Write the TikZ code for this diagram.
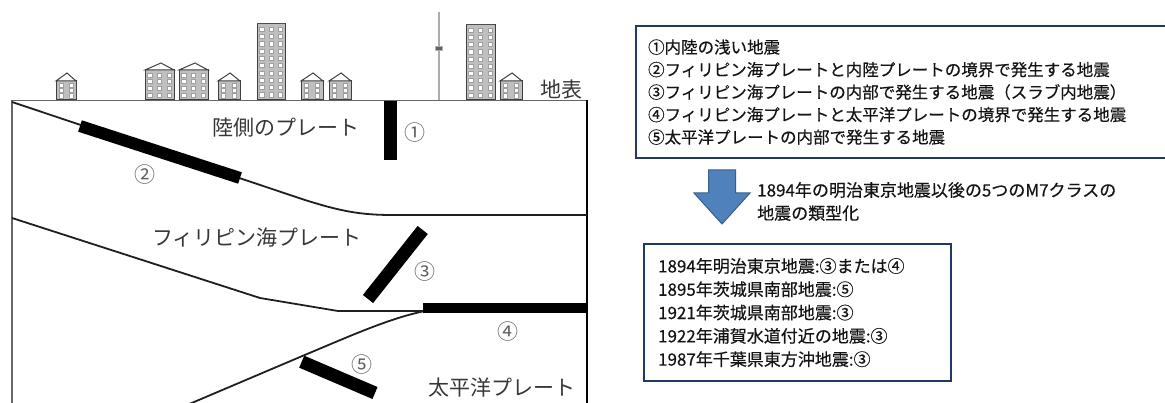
\documentclass[tikz,border=0pt]{standalone}
\usepackage{fontspec}
\setmainfont{Noto Sans CJK JP}
\newfontfamily\boxfont{Noto Sans CJK JP}[FakeBold=0.45, AutoFakeBold=0.45]

\definecolor{navy}{RGB}{31,56,100}
\definecolor{arrowfill}{RGB}{79,129,189}
\definecolor{arrowedge}{RGB}{58,94,140}
\definecolor{numgray}{RGB}{95,95,95}
\definecolor{platetext}{RGB}{55,55,55}

\tikzset{
  boundary/.style={line width=1.8pt, draw=black!88, line join=round},
  quakezone/.style={line width=13pt, draw=black, line cap=butt},
  frame/.style={line width=1.8pt, draw=black!60},
  platelabel/.style={font=\fontsize{21}{25}\selectfont, text=platetext, inner sep=0pt},
  numlabel/.style={font=\fontsize{21}{25}\selectfont, text=numgray, inner sep=0pt},
  infobox/.style={draw=navy, line width=2.2pt, align=left, inner xsep=12pt, inner ysep=5pt, text=black!92},
  bodyfill/.style={fill=gray!50, draw=black!75, line width=1pt},
  bodyedge/.style={draw=black!75, line width=1pt},
  win/.style={fill=white, draw=gray!75, line width=0.5pt}
}

% building: left x, width, wall height, roof peak height, window columns, window rows
\newcommand\bldg[6]{%
  \filldraw[bodyfill] (#1,100) rectangle ({#1+#2},{100-#3});
  \draw[bodyedge, fill=white] (#1,{100-#3}) -- ({#1+0.55*#2},{100-#4}) -- ({#1+#2},{100-#3}) -- cycle;
  \foreach \i in {1,...,#5}{
    \foreach \j in {1,...,#6}{
      \filldraw[win] ({#1+(\i-0.5)*#2/#5},{100-1.5-(\j-0.5)*(#3-3)/#6}) +(-2.1,-2.1) rectangle +(2.1,2.1);
    }
  }
}

\begin{document}
\begin{tikzpicture}[x=1pt, y=-1pt]
\useasboundingbox (0,0) rectangle (1165,403);
\clip (0,0) rectangle (1165,403);

% ---- skyline on the surface ----
\bldg{56}{20}{19}{27}{2}{3}
\bldg{145}{29}{30}{37}{3}{4}
\bldg{179}{29}{30}{37}{3}{4}
\bldg{218}{22}{19}{27}{2}{3}
\bldg{257}{28}{76}{76}{3}{10}
\bldg{301}{22}{19}{27}{2}{3}
\bldg{329}{22}{19}{27}{2}{3}
\bldg{466}{29}{75}{75}{3}{10}
\bldg{500}{22}{19}{27}{2}{3}
% tower
\draw[line width=2.4pt, draw=gray!65] (439,100) -- (439,12);
\filldraw[fill=gray!75!black, draw=gray!60, line width=0.5pt] (435.5,46) rectangle (442.5,50.5);

% ---- cross-section frame ----
\draw[frame] (12,100.5) -- (587,100.5);
\draw[frame] (12,100) -- (12,410);
\draw[line width=1.8pt, draw=black] (587,100) -- (587,410);

\node[platelabel, anchor=east] (surface) at (583,90) {地表};

% ---- plate boundaries ----
\draw[boundary] (12,102) -- (305,200) .. controls (340,211) and (360,215) .. (392,215) -- (587,215);
\draw[boundary] (12,218) -- (260,298) -- (338,311) -- (425,311);
\draw[boundary] (187,405) -- (300,357) .. controls (350,336) and (390,318) .. (425,311);

% ---- earthquake source zones ----
\draw[quakezone] (390.5,101) -- (390.5,160);
\draw[quakezone, line width=12pt] (80,126) -- (240,178);
\draw[quakezone] (422.7,230) -- (368,299);
\draw[quakezone, line width=10pt] (423,308) -- (587,308);
\draw[quakezone] (301.7,361.7) -- (375,393);

% ---- plate names ----
\node[platelabel] (land) at (286,128) {陸側のプレート};
\node[platelabel] (phil) at (257,238) {フィリピン海プレート};
\node[platelabel] (pac) at (502,388) {太平洋プレート};

% ---- zone numbers ----
\node[numlabel] (n1) at (415,133) {①};
\node[numlabel] (n2) at (145,175) {②};
\node[numlabel] (n3) at (425,272) {③};
\node[numlabel] (n4) at (508,332) {④};
\node[numlabel] (n5) at (362,365) {⑤};

% ---- legend of earthquake types ----
\node[infobox, anchor=north west, minimum width=545pt, minimum height=132pt, text width=521pt,
      font=\boxfont\fontsize{16.5}{22.5}\selectfont] (types) at (635,25)
  {①内陸の浅い地震\\
   ②フィリピン海プレートと内陸プレートの境界で発生する地震\\
   ③フィリピン海プレートの内部で発生する地震（スラブ内地震）\\
   ④フィリピン海プレートと太平洋プレートの境界で発生する地震\\
   ⑤太平洋プレートの内部で発生する地震};

% ---- block arrow and caption ----
\filldraw[fill=arrowfill, draw=arrowedge, line width=1pt, line join=miter]
  (708.5,170) -- (735.5,170) -- (735.5,193) -- (750,193) -- (722,224) -- (694,193) -- (708.5,193) -- cycle;
\node[anchor=west, align=left, inner sep=0pt, text=black!92, font=\boxfont\fontsize{17}{23}\selectfont] (caption) at (757,201.5)
  {1894年の明治東京地震以後の5つのM7クラスの\\地震の類型化};

% ---- classification of past events ----
\node[infobox, anchor=north west, minimum width=307pt, minimum height=137pt, text width=279pt,
      inner xsep=14pt, font=\boxfont\fontsize{17}{23.3}\selectfont] (events) at (643,243)
  {1894年明治東京地震:③または④\\
   1895年茨城県南部地震:⑤\\
   1921年茨城県南部地震:③\\
   1922年浦賀水道付近の地震:③\\
   1987年千葉県東方沖地震:③};

\end{tikzpicture}
\end{document}
